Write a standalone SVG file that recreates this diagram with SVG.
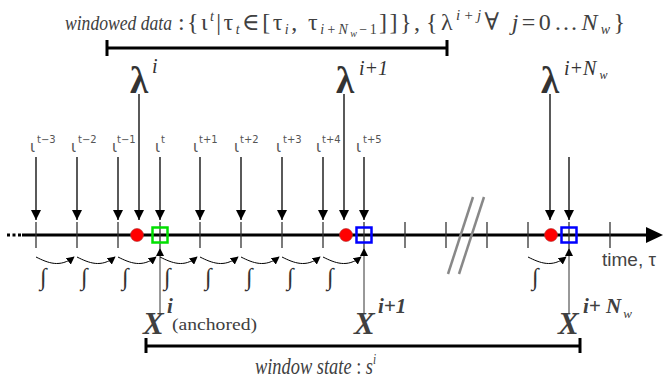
<svg xmlns="http://www.w3.org/2000/svg" width="665" height="379" viewBox="0 0 665 379">
<defs>
<marker id="ah" viewBox="0 0 10 10" refX="10" refY="5" markerWidth="10" markerHeight="10" orient="auto" markerUnits="userSpaceOnUse"><path d="M0,0 L10,5 L0,10 z" fill="#000"/></marker>
<marker id="ahs" viewBox="0 0 10 10" refX="10" refY="5" markerWidth="8" markerHeight="8" orient="auto" markerUnits="userSpaceOnUse"><path d="M0,0 L10,5 L0,10 z" fill="#000"/></marker>
<marker id="ahc" viewBox="0 0 10 10" refX="9" refY="5" markerWidth="8" markerHeight="8" orient="auto" markerUnits="userSpaceOnUse"><path d="M0,0 L10,5 L0,10 z" fill="#000"/></marker>
</defs>
<style>
.ser{font-family:"Liberation Serif","DejaVu Serif",serif;fill:#404040}
.it{font-style:italic}
.bi{font-style:italic;font-weight:bold}
.iota{font-family:"DejaVu Sans","Noto Sans",sans-serif;fill:#555;font-size:15px}
.isup{font-family:"DejaVu Sans","Liberation Sans",sans-serif;fill:#555;font-size:10px}
.lam{font-family:"Liberation Serif","DejaVu Serif",serif;fill:#333;font-size:37px;font-weight:bold}
.lsup{font-family:"Liberation Serif","DejaVu Serif",serif;fill:#333;font-size:20px;font-style:italic}
.down{stroke:#000;stroke-width:1.3;fill:none;marker-end:url(#ah)}
.up{stroke:#333;stroke-width:1;fill:none;marker-end:url(#ahs)}
.tick{stroke:#333;stroke-width:1.3}
.curve{stroke:#000;stroke-width:1;fill:none;marker-end:url(#ahc)}
.integ{font-family:"Liberation Serif","DejaVu Serif",serif;fill:#333;font-size:24px;font-style:italic}
.bracket{stroke:#000;stroke-width:3;fill:none}
.dot{fill:#f00;stroke:#a33;stroke-width:0.6}
.sq{fill:none;stroke-width:2.5}
</style>

<g id="top-label">
<text class="ser it" font-size="22" transform="translate(65,30) scale(0.8,1)" x="0" y="0">windowed data</text>
<text class="ser" font-size="24" x="178" y="30" textLength="242" lengthAdjust="spacing">:{ι<tspan class="it" font-size="14" dy="-9">t</tspan><tspan dy="9">|τ</tspan><tspan class="it" font-size="14" dy="4">t</tspan><tspan dy="-4">∈[τ</tspan><tspan class="it" font-size="14" dy="4">i</tspan><tspan dy="-4">, τ</tspan><tspan class="it" font-size="14" dy="4">i+N</tspan><tspan class="it" font-size="10" dy="3">w</tspan><tspan font-size="14" dy="-3">−1</tspan><tspan dy="-4">]]},</tspan></text>
<text class="ser" font-size="24" x="426" y="30" textLength="199" lengthAdjust="spacing">{λ<tspan class="it" font-size="15" dy="-10">i+j</tspan><tspan dy="10">∀ </tspan><tspan class="it">j</tspan><tspan>=0…</tspan><tspan class="it">N</tspan><tspan class="it" font-size="14" dy="4">w</tspan><tspan dy="-4">}</tspan></text>
</g>

<g id="top-bracket">
<line class="bracket" x1="107" y1="48" x2="447" y2="48"/>
<line class="bracket" x1="107" y1="40" x2="107" y2="56"/>
<line class="bracket" x1="447" y1="40" x2="447" y2="56"/>
</g>

<g id="lambda-labels">
<text class="lam" x="130" y="93">λ</text><text class="lsup" x="152" y="73">i</text>
<text class="lam" x="336" y="93">λ</text><text class="lsup" x="359" y="75">i+1</text>
<text class="lam" x="541" y="93">λ</text><text class="lsup" x="564" y="75">i+N<tspan font-size="12" dx="3" dy="4">w</tspan></text>
</g>

<g id="iota-labels">
<text class="iota" x="30" y="152">ι</text><text class="isup" x="37" y="143">t−3</text>
<text class="iota" x="71" y="152">ι</text><text class="isup" x="78" y="143">t−2</text>
<text class="iota" x="112" y="152">ι</text><text class="isup" x="117" y="143">t−1</text>
<text class="iota" x="155" y="152">ι</text><text class="isup" x="161" y="143">t</text>
<text class="iota" x="193" y="152">ι</text><text class="isup" x="199" y="143">t+1</text>
<text class="iota" x="234" y="152">ι</text><text class="isup" x="240" y="143">t+2</text>
<text class="iota" x="276" y="152">ι</text><text class="isup" x="283" y="143">t+3</text>
<text class="iota" x="316" y="152">ι</text><text class="isup" x="322" y="143">t+4</text>
<text class="iota" x="356" y="152">ι</text><text class="isup" x="363" y="143">t+5</text>
</g>

<g id="timeline">
<line x1="7" y1="235" x2="21" y2="235" stroke="#000" stroke-width="3" stroke-dasharray="3,2.5"/>
<line x1="22" y1="235" x2="648" y2="235" stroke="#000" stroke-width="3"/>
<path d="M646,227 L663,235 L646,243 z" fill="#000"/>
<g>
<line class="tick" x1="36" y1="222" x2="36" y2="248"/>
<line class="tick" x1="77" y1="222" x2="77" y2="248"/>
<line class="tick" x1="118" y1="222" x2="118" y2="248"/>
<line class="tick" x1="160" y1="222" x2="160" y2="248"/>
<line class="tick" x1="200" y1="222" x2="200" y2="248"/>
<line class="tick" x1="241" y1="222" x2="241" y2="248"/>
<line class="tick" x1="282" y1="222" x2="282" y2="248"/>
<line class="tick" x1="323" y1="222" x2="323" y2="248"/>
<line class="tick" x1="364" y1="222" x2="364" y2="248"/>
<line class="tick" x1="405" y1="222" x2="405" y2="248"/>
<line class="tick" x1="446" y1="222" x2="446" y2="248"/>
<line class="tick" x1="487" y1="222" x2="487" y2="248"/>
<line class="tick" x1="528" y1="222" x2="528" y2="248"/>
<line class="tick" x1="569" y1="222" x2="569" y2="248"/>
<line class="tick" x1="610" y1="222" x2="610" y2="248"/>
</g>
<line x1="473" y1="197" x2="448" y2="274" stroke="#888" stroke-width="2.5"/>
<line x1="484" y1="197" x2="459" y2="274" stroke="#888" stroke-width="2.5"/>
<text x="602" y="266" font-family="Liberation Sans, DejaVu Sans, sans-serif" font-size="19" fill="#444">time, τ</text>
</g>

<g id="connectors">
<line class="down" x1="36" y1="157" x2="36" y2="220"/>
<line class="down" x1="77" y1="157" x2="77" y2="220"/>
<line class="down" x1="118" y1="157" x2="118" y2="220"/>
<line class="down" x1="160" y1="157" x2="160" y2="220"/>
<line class="down" x1="200" y1="157" x2="200" y2="220"/>
<line class="down" x1="241" y1="157" x2="241" y2="220"/>
<line class="down" x1="282" y1="157" x2="282" y2="220"/>
<line class="down" x1="323" y1="157" x2="323" y2="220"/>
<line class="down" x1="364" y1="157" x2="364" y2="220"/>
<line class="down" x1="569" y1="157" x2="569" y2="220"/>
<line class="down" x1="139" y1="94" x2="139" y2="220"/>
<line class="down" x1="344" y1="94" x2="344" y2="220"/>
<line class="down" x1="550" y1="94" x2="550" y2="220"/>
<line class="up" x1="160" y1="313" x2="160" y2="248"/>
<line class="up" x1="364" y1="313" x2="364" y2="248"/>
<line class="up" x1="569" y1="313" x2="569" y2="248"/>
<path class="curve" d="M36,257 C48,263 60,268 74,257"/>
<path class="curve" d="M77,257 C89,263 101,268 115,257"/>
<path class="curve" d="M118,257 C130,263 142,268 156,257"/>
<path class="curve" d="M160,257 C172,263 184,268 197,257"/>
<path class="curve" d="M200,257 C212,263 224,268 238,257"/>
<path class="curve" d="M241,257 C253,263 265,268 279,257"/>
<path class="curve" d="M282,257 C294,263 306,268 320,257"/>
<path class="curve" d="M323,257 C335,263 347,268 361,257"/>
<path class="curve" d="M528,257 C540,263 552,268 566,257"/>
</g>

<g id="integrals">
<text class="integ" x="40" y="285">∫</text>
<text class="integ" x="81" y="285">∫</text>
<text class="integ" x="122" y="285">∫</text>
<text class="integ" x="164" y="285">∫</text>
<text class="integ" x="205" y="285">∫</text>
<text class="integ" x="246" y="285">∫</text>
<text class="integ" x="287" y="285">∫</text>
<text class="integ" x="327" y="285">∫</text>
<text class="integ" x="532" y="285">∫</text>
</g>

<g id="markers">
<circle class="dot" cx="137" cy="235" r="6.5"/>
<circle class="dot" cx="346" cy="235" r="6.5"/>
<circle class="dot" cx="551" cy="235" r="6.5"/>
<rect class="sq" x="152.5" y="227.5" width="15" height="15" stroke="#00e000"/>
<rect class="sq" x="356.5" y="227.5" width="15" height="15" stroke="#0000ff"/>
<rect class="sq" x="561.5" y="227.5" width="15" height="15" stroke="#0000ff"/>
</g>

<g id="x-labels">
<text class="ser bi" font-size="31" x="143" y="334">X</text>
<text class="ser bi" font-size="21" x="167" y="313">i</text>
<text class="ser" font-size="16" x="172" y="330" textLength="85" lengthAdjust="spacingAndGlyphs">(anchored)</text>
<text class="ser bi" font-size="31" x="354" y="334">X</text>
<text class="ser bi" font-size="21" x="378" y="313">i+1</text>
<text class="ser bi" font-size="31" x="558" y="334">X</text>
<text class="ser bi" font-size="21" x="583" y="313">i+ N<tspan font-size="13" font-weight="normal" dx="2" dy="5">w</tspan></text>
</g>

<g id="bottom-bracket">
<line class="bracket" x1="146" y1="346" x2="580" y2="346"/>
<line class="bracket" x1="146" y1="338" x2="146" y2="353"/>
<line class="bracket" x1="580" y1="338" x2="580" y2="353"/>
<text class="ser" font-size="23" transform="translate(255,374) scale(0.8,1)" x="0" y="0"><tspan class="it">window state</tspan> : <tspan class="it">s</tspan><tspan class="it" font-size="14" dy="-10">i</tspan></text>
</g>
</svg>
